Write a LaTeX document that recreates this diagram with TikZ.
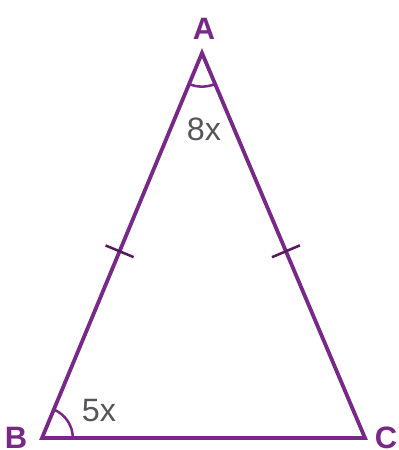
\documentclass[tikz,border=0pt]{standalone}
\usepackage{fontspec}
\setmainfont{Liberation Sans}
\usetikzlibrary{calc}
\usetikzlibrary{angles}
\definecolor{tripurple}{RGB}{120,40,135}
\definecolor{angrey}{RGB}{85,85,90}

\begin{document}
\begin{tikzpicture}[x=0.025cm, y=-0.025cm, line width=2.7pt, line join=miter,
    vname/.style={text=tripurple, font=\fontsize{22}{22}\selectfont\bfseries, inner sep=0pt},
    aname/.style={text=angrey, font=\fontsize{23}{23}\selectfont, inner sep=0pt},
    tick/.style={draw=tripurple!70!black, line width=1.8pt},
    mark angle/.style={draw=tripurple, line width=1.8pt, angle radius=0.84cm}]
        \useasboundingbox (0,0) rectangle (399,450);

        \coordinate (A) at (202, 53);
        \coordinate (B) at (42, 438);
        \coordinate (C) at (365, 438);

        \node[vname] (lA) at (204, 29) {A};
        \node[vname] (lB) at (16, 438) {B};
        \node[vname] (lC) at (386, 438) {C};

        \draw[tripurple] (A) -- (B) -- (C) -- cycle;

        \pic[mark angle] {angle = B--A--C};
        \pic[mark angle, angle radius=0.77cm] {angle = C--B--A};

        \draw[tick] ($(A)!0.515!(B)!0.38cm!90:(B)$) -- ($(A)!0.515!(B)!0.38cm!-90:(B)$);
        \draw[tick] ($(A)!0.515!(C)!0.38cm!90:(C)$) -- ($(A)!0.515!(C)!0.38cm!-90:(C)$);

        \node[aname] (a8) at (204, 129) {8x};
        \node[aname] (a5) at (99, 411) {5x};
      \end{tikzpicture}
\end{document}
